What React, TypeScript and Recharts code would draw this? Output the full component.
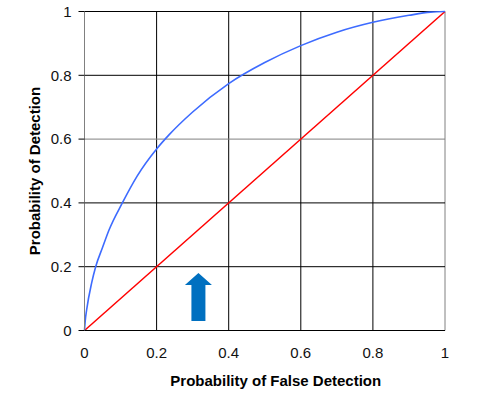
import React from "react";
import {
  LineChart,
  Line,
  XAxis,
  YAxis,
  ReferenceLine,
  ReferenceDot,
  Label,
} from "recharts";

// ROC curve
const falseDetection = [0, 0.002, 0.006, 0.02, 0.031, 0.05, 0.068, 0.105, 0.146, 0.2, 0.235, 0.3, 0.4, 0.5, 0.6, 0.7, 0.8, 0.9, 0.96, 1];
const detection = [0, 0.03, 0.065, 0.15, 0.2, 0.26, 0.315, 0.4, 0.484, 0.569, 0.614, 0.685, 0.774, 0.84, 0.893, 0.935, 0.966, 0.988, 0.998, 1];

// chance line
const chanceX = [0, 1];
const chanceY = [0, 1];

const xTicks = [0, 0.2, 0.4, 0.6, 0.8, 1];
const yTicks = [0, 0.2, 0.4, 0.6, 0.8, 1];

// arrow annotation position (data units)
const arrowAt = { x: 0.316, y: 0.105 };

const rocData = falseDetection.map((x, i) => ({ x, y: detection[i] }));
const chanceData = chanceX.map((x, i) => ({ x, y: chanceY[i] }));

const font = "'Liberation Sans', Arial, sans-serif";

const ArrowShape = (props: any) => {
  const { cx, cy } = props;
  if (cx == null || cy == null) return null;
  const pts = [
    [0, -24],
    [13.5, -12],
    [7, -12],
    [7, 24],
    [-7, 24],
    [-7, -12],
    [-13.5, -12],
  ]
    .map(([dx, dy]) => `${cx + dx},${cy + dy}`)
    .join(" ");
  return <polygon points={pts} fill="#0070c0" />;
};

export default function App() {
  return (
    <div style={{ position: "absolute", left: 0, top: 0, background: "#fff" }}>
      <LineChart
        width={477}
        height={395}
        margin={{ top: 11.5, right: 32, left: 0, bottom: 0 }}
      >
        <XAxis
          type="number"
          dataKey="x"
          domain={[0, 1]}
          ticks={xTicks}
          tickLine={false}
          axisLine={{ stroke: "#000" }}
          tickMargin={11}
          height={64.5}
          tick={{ fill: "#111", fontSize: 15, fontFamily: font }}
          tickFormatter={(v: number) => String(v)}
        >
          <Label
            value="Probability of False Detection"
            position="insideBottom"
            offset={9}
            dx={11}
            style={{ fontFamily: font, fontSize: 15, fontWeight: "bold", fill: "#000" }}
          />
        </XAxis>
        <YAxis
          type="number"
          dataKey="y"
          domain={[0, 1]}
          ticks={yTicks}
          width={84.5}
          tickSize={6}
          tickMargin={7}
          tickLine={{ stroke: "#000" }}
          axisLine={{ stroke: "#808080" }}
          tick={{ fill: "#111", fontSize: 15, fontFamily: font }}
          tickFormatter={(v: number) => String(v)}
        >
          <Label
            value="Probability of Detection"
            angle={-90}
            position="insideLeft"
            offset={35}
            style={{ textAnchor: "middle", fontFamily: font, fontSize: 15, fontWeight: "bold", fill: "#000" }}
          />
        </YAxis>
        {xTicks.slice(1).map((t) => (
          <ReferenceLine key={"vx" + t} x={t} stroke={t === 1 ? "#808080" : "#000"} strokeWidth={1} />
        ))}
        {yTicks.slice(1).map((t) => (
          <ReferenceLine key={"hy" + t} y={t} stroke={t === 0.6 ? "#808080" : "#000"} strokeWidth={1} />
        ))}
        <Line
          data={chanceData}
          dataKey="y"
          type="linear"
          stroke="#ff0000"
          strokeWidth={1.5}
          dot={false}
          isAnimationActive={false}
        />
        <Line
          data={rocData}
          dataKey="y"
          type="monotone"
          stroke="#3d6bff"
          strokeWidth={1.6}
          dot={false}
          isAnimationActive={false}
        />
        <ReferenceDot x={arrowAt.x} y={arrowAt.y} shape={ArrowShape} />
      </LineChart>
    </div>
  );
}
